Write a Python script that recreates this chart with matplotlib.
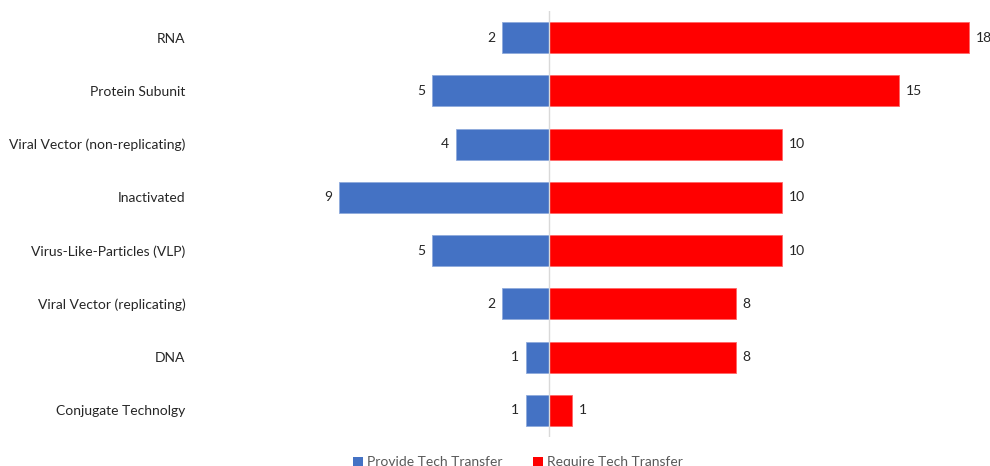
import matplotlib.pyplot as plt
from matplotlib.patches import Patch

categories = ['RNA', 'Protein Subunit', 'Viral Vector (non-replicating)', 'Inactivated',
              'Virus-Like-Particles (VLP)', 'Viral Vector (replicating)', 'DNA',
              'Conjugate Technolgy']
provide = [2, 5, 4, 9, 5, 2, 1, 1]
require = [18, 15, 10, 10, 10, 8, 8, 1]
series_names = ['Provide Tech Transfer', 'Require Tech Transfer']

blue = '#4472c4'
red = '#ff0000'

plt.rcParams['font.family'] = ['Lato', 'DejaVu Sans']
plt.rcParams['font.size'] = 10

fig = plt.figure(figsize=(9.9, 4.66), dpi=100)
ax = fig.add_axes([195 / 990, 1 - 437 / 466, 795 / 990, 426 / 466])

y = list(range(len(categories)))
ax.barh(y, [-v for v in provide], height=0.58, color=blue, edgecolor='#8faadc', linewidth=0.6)
ax.barh(y, require, height=0.58, color=red, edgecolor='#ff6666', linewidth=0.6)

# value labels at the bar ends
for i in y:
    ax.text(-provide[i] - 0.3, i, str(provide[i]), ha='right', va='center', color='#262626')
    ax.text(require[i] + 0.3, i, str(require[i]), ha='left', va='center', color='#262626',
            clip_on=False)

ax.axvline(0, color='#d9d9d9', linewidth=1, zorder=3)

ax.set_xlim(-15.17, 18.9)
ax.set_ylim(len(categories) - 0.5, -0.5)
ax.set_yticks(y)
ax.set_yticklabels(categories, color='#262626')
ax.tick_params(axis='y', length=0, pad=7)
ax.set_xticks([])
for s in ax.spines.values():
    s.set_visible(False)

handles = [Patch(facecolor=blue), Patch(facecolor=red)]
fig.legend(handles, series_names, loc='upper center', bbox_to_anchor=(518 / 990, 1 - 444 / 466),
           ncol=2, frameon=False, handlelength=0.7, handleheight=0.7, handletextpad=0.3,
           columnspacing=2.2, labelcolor='#595959')

fig.savefig('out.png', dpi=100)
